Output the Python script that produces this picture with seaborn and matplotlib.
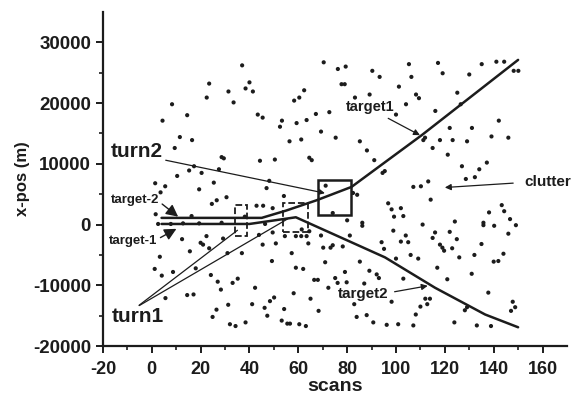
import matplotlib
matplotlib.use("Agg")
import matplotlib.pyplot as plt
from matplotlib.patches import Rectangle
import seaborn as sns

# clutter returns (scan, x-pos in m)
clutter_scan = [37, 40, 23.5, 38.4, 41.4, 31.4, 22.5, 33.5, 8.3, 43.4, 45.4, 14.5, 4.4, 11.5, 16.5,
                9.4, 28.6, 29.5, 44.3, 17.3, 15.3, 20.4, 27.5, 10.4, 25.4, 1.4, 5.5, 3.6, 19.4,
                70.4, 76.2, 79.4, 90.3, 93.3, 77.7, 79, 62.4, 60.4, 58.3, 83.2, 89.2, 72.7, 67.2,
                53.3, 52.5, 59.3, 63.4, 69.3, 75.3, 56.4, 61.2, 85.2, 88.1, 64.5, 65.5, 50.4, 91.1,
                48.1, 47, 71.2,
                105.3, 117.2, 135.1, 141.1, 144.3, 119.1, 130, 106.3, 101.2, 108.2, 109.4, 125.1,
                104.1, 126.5, 116.1, 100, 142.1, 122, 131.1, 139.1, 111.9, 111.2, 118, 123.2, 129.1,
                115, 121.2, 137.2, 127, 134.1, 95.4, 94.5, 128.6, 132.3, 113.2, 107.1, 110.2,
                148.2, 150.1, 146,
                24.6, 26.6, 30.6, 1.6, 16.3, 19.4, 12.8, 2.6, 7.8, 28.6, 38.1, 42.9, 45.6, 12.4,
                22.4, 29.2, 20, 21, 23.5, 15.6, 3.3, 31, 36.9, 43.9, 1.2, 8.7, 4.1, 18, 24.2, 27,
                33.1, 35.2, 42.3, 28.3, 14.5, 17.1, 5.6, 31.3, 26.5, 41.1, 24.9, 32, 34.3, 38.4,
                54.1, 84.1, 82.4, 49.5, 74.1, 80, 86.2, 86.2, 46.4, 49.5, 54.5, 61.4, 64.5, 59,
                61.2, 63.4, 69.3, 81.1, 45.4, 50.8, 64.1, 70.2, 73.2, 74.1, 78.2, 94.1, 95.1, 57.3,
                49.2, 71, 85.2, 59, 62, 79.1, 89.1, 92.1, 93, 66.5, 68, 75.1, 76.1, 79.8, 87, 72.3,
                58.1, 50.1, 48.4, 65, 82.9, 46.2, 54.2, 68.3, 47.3, 83.9, 88, 53.2, 55.5, 56.6,
                60.4, 63.1, 90.7,
                114.2, 96.8, 98.2, 102, 99.2, 103, 110.9, 124.1, 138.1, 135.8, 135.8, 140.2, 143.3,
                144.3, 98.9, 116, 115, 122, 104, 102, 105, 124.9, 118, 119, 119.7, 123, 135, 106,
                109.1, 100, 125.9, 132.1, 140, 141.9, 144, 116.9, 131, 103, 121, 137.8, 98.2, 112,
                113.9, 112.8, 110, 129.1, 128.2, 108.1, 96.2, 100.9, 107.1, 123.9, 133.1, 138.9,
                148.8, 147.1, 147.8, 146.7, 149.1, 146]
clutter_pos = [26200, 23400, 23200, 22400, 21900, 21900, 20900, 20100, 19800, 18100, 17600, 18000,
               17100, 14400, 13900, 12600, 11100, 10900, 10500, 9600, 8900, 8500, 9100, 8000, 6900,
               6800, 6300, 5300, 5800,
               26700, 25600, 26000, 25300, 24300, 23100, 23100, 22100, 20900, 20400, 20900, 21400,
               18500, 18200, 17100, 16100, 16700, 17200, 15300, 14300, 13700, 14000, 13700, 12200,
               11000, 10600, 10700, 10600, 7200, 6000, 6400,
               26400, 26600, 26400, 26800, 26800, 24900, 24700, 24300, 22700, 21400, 20800, 21700,
               19800, 19800, 18700, 18100, 17100, 15900, 15900, 14500, 14300, 13900, 13900, 13900,
               13700, 12600, 11500, 10200, 9600, 9100, 8800, 8500, 7500, 7800, 7100, 6200, 6300,
               25300, 25300, 14300,
               3400, 4000, 4500, 1700, 1400, 200, 200, 100, 100, 300, 1300, 3100, 3100, -2400,
               -1900, -2300, -3000, -3300, -3900, -4400, -5300, -4700, -4700, -1700, -7300, -7800,
               -8400, -7200, -8300, -9400, -9600, -8900, -10400, -10700, -11600, -11500, -12100,
               -13200, -14000, -13100, -15200, -16400, -16700, -16100,
               4700, 4900, 5200, 2700, 1900, 700, 300, -200, 100, -1300, -1900, -800, -1100, -1900,
               -1900, -1900, -1800, -1800, -3300, -3100, -3100, -3800, -3800, -3400, -3600, -2900,
               -4000, -4700, -6000, -6200, -6100, -7100, -7300, -7800, -7600, -8200, -8800, -9100,
               -9100, -8800, -9600, -9500, -9700, -10400, -11300, -12000, -12600, -12200, -13100,
               -13700, -13900, -14200, -15000, -15200, -14900, -15800, -16300, -16300, -16400,
               -16700, -16100,
               4100, 3500, 2500, 2700, 1300, 1400, 0, 500, 2000, 300, -100, -200, 3200, 2200,
               -1000, -1300, -2200, -1200, -1800, -2800, -2900, -2400, -3300, -3800, -4300, -3900,
               -3200, -5000, -5600, -5600, -5400, -5000, -6100, -6000, -4800, -7100, -8100, -8900,
               -9000, -11200, -12700, -12200, -12200, -13100, -13500, -13600, -14100, -14800,
               -16500, -16400, -16600, -16100, -16600, -16700, -13600, -14200, -12700, 900, -100,
               -1500]

# the two target tracks
track_up_scan = [4, 45, 55, 67.5, 81.8, 110.5, 150]
track_up_pos = [1100, 1100, 2300, 4000, 6200, 14700, 27100]
track_down_scan = [4, 40, 59, 95.5, 116, 136.5, 150]
track_down_pos = [100, 100, 1200, -5400, -10400, -14800, -16900]

x_ticks = [-20, 0, 20, 40, 60, 80, 100, 120, 140, 160]
y_ticks = [-20000, -10000, 0, 10000, 20000, 30000]

sns.set_theme(style="ticks")
plt.rcParams['font.family'] = ['Liberation Sans', 'DejaVu Sans']
plt.rcParams['axes.unicode_minus'] = False
ink = '#1c1c1c'

fig = plt.figure(figsize=(5.75, 3.96), dpi=100)
ax = fig.add_axes([0.179, 0.126, 0.807, 0.844])

sns.scatterplot(x=clutter_scan, y=clutter_pos, s=9, color=ink, edgecolor='none',
                ax=ax, legend=False)
sns.lineplot(x=track_up_scan, y=track_up_pos, sort=False, estimator=None,
             color=ink, lw=1.8, ax=ax)
sns.lineplot(x=track_down_scan, y=track_down_pos, sort=False, estimator=None,
             color=ink, lw=1.8, ax=ax)

# boxes around the turns
ax.add_patch(Rectangle((68.2, 1500), 13.2, 5800, fill=False, lw=1.8, ec=ink))
ax.add_patch(Rectangle((34, -1800), 4.8, 5000, fill=False, lw=1.3, ls='--', ec=ink))
ax.add_patch(Rectangle((53.8, -1300), 10.2, 4800, fill=False, lw=1.3, ls='--', ec=ink))

ax.set_xlim(-20, 170)
ax.set_ylim(-20000, 35000)
ax.set_xticks(x_ticks)
ax.set_yticks(y_ticks)
ax.set_xticks(range(-10, 170, 20), minor=True)
ax.set_yticks(range(-15000, 35000, 10000), minor=True)
ax.tick_params(which='major', direction='out', length=5, width=1.4, colors=ink)
ax.tick_params(axis='x', which='major', labelsize=13, pad=6)
ax.tick_params(axis='y', which='major', labelsize=13.5)
ax.tick_params(which='minor', direction='out', length=3, width=1.2, colors=ink)
for lbl in ax.get_xticklabels() + ax.get_yticklabels():
    lbl.set_fontweight('bold')
sns.despine(ax=ax)
for sp in ['left', 'bottom']:
    ax.spines[sp].set_linewidth(1.6)
    ax.spines[sp].set_color(ink)

ax.set_xlabel('scans', fontsize=14, fontweight='bold', labelpad=0, color=ink)
ax.set_ylabel('x-pos (m)', fontsize=12, fontweight='bold', labelpad=2, color=ink)

# annotations
thin = dict(arrowstyle='-', lw=0.9, color=ink)
ax.annotate('turn2', xy=(70.9, 5170), xytext=(-6.3, 11950), fontsize=15, fontweight='bold',
            ha='center', va='center', color=ink,
            arrowprops=dict(arrowstyle='-|>', lw=0.9, color=ink, mutation_scale=8,
                            shrinkA=0, shrinkB=0, relpos=(1.0, 0.1)))
ax.text(-5.6, -15200, 'turn1', fontsize=15, fontweight='bold', ha='center', va='center', color=ink)
ax.annotate('', xy=(36, -660), xytext=(-6.1, -13560), arrowprops=thin)
ax.annotate('', xy=(56.6, 1160), xytext=(-6.1, -13560), arrowprops=thin)

head = dict(arrowstyle='-|>', lw=1.0, color=ink, mutation_scale=18, shrinkA=0, shrinkB=0)
ax.annotate('target-2', xy=(10.8, 1300), xytext=(-7, 4000), fontsize=9.5, fontweight='bold',
            ha='center', va='center', color=ink, arrowprops=dict(head, relpos=(1.0, 0.4)))
ax.annotate('target-1', xy=(10.1, -700), xytext=(-7.7, -2640), fontsize=9.5, fontweight='bold',
            ha='center', va='center', color=ink, arrowprops=dict(head, relpos=(1.0, 0.6)))

small = dict(arrowstyle='-|>', lw=0.9, color=ink, mutation_scale=9, shrinkA=2, shrinkB=0)
ax.annotate('target1', xy=(109.8, 14710), xytext=(89.3, 19390), fontsize=10.5, fontweight='bold',
            ha='center', va='center', color=ink, arrowprops=dict(small, relpos=(0.7, 0.0)))
ax.annotate('target2', xy=(113, -10080), xytext=(86.6, -11460), fontsize=11, fontweight='bold',
            ha='center', va='center', color=ink, arrowprops=dict(small, relpos=(1.0, 0.6)))
ax.annotate('clutter', xy=(120, 6100), xytext=(162.3, 6940), fontsize=11, fontweight='bold',
            ha='center', va='center', color=ink, annotation_clip=False,
            arrowprops=dict(small, relpos=(0.0, 0.5), shrinkA=6))

fig.savefig('out.png', dpi=100)
